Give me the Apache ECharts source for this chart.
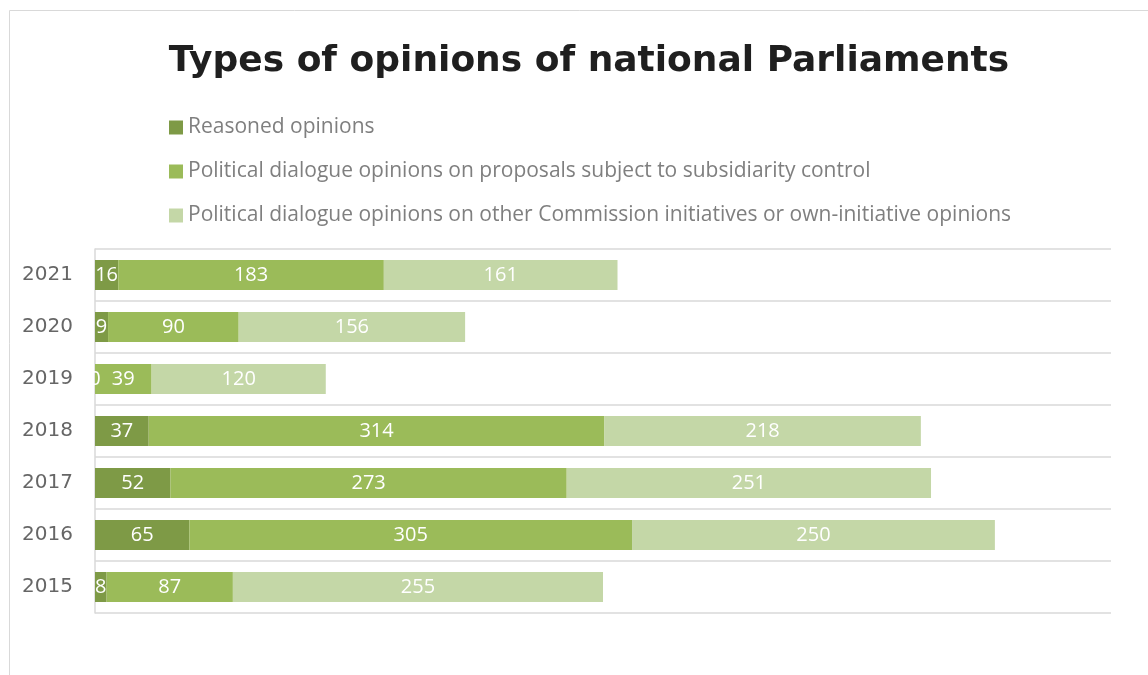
<!DOCTYPE html>
<html><head><meta charset="utf-8">
<script src="https://cdn.jsdelivr.net/npm/echarts@6/dist/echarts.min.js"></script>
<style>html,body{margin:0;padding:0;background:#fff}#c{width:1148px;height:675px}</style>
</head><body><div id="c"></div>
<script>
const years = ['2015','2016','2017','2018','2019','2020','2021'];
const seriesNames = [
  'Reasoned opinions',
  'Political dialogue opinions on proposals subject to subsidiarity control',
  'Political dialogue opinions on other Commission initiatives or own-initiative opinions'
];
const reasoned = [8, 65, 52, 37, 0, 9, 16];
const pdSubsidiarity = [87, 305, 273, 314, 39, 90, 183];
const pdOther = [255, 250, 251, 218, 120, 156, 161];
const colors = ['#7E9A46', '#9BBB59', '#C4D7A7'];

const chart = echarts.init(document.getElementById('c'));
const font = '"Open Sans", sans-serif';
function mk(i, data){
  return {
    name: seriesNames[i], type:'bar', stack:'t', data:data,
    barWidth: 30,
    itemStyle:{color:colors[i]},
    label:{show:true, position:'inside', color:'#fff', fontSize:20, fontFamily:font},
    emphasis:{disabled:true}
  };
}
chart.setOption({
  animation:false,
  title:{text:'Types of opinions of national Parliaments', left:584, top:39, textAlign:'center',
    textStyle:{fontFamily:'"DejaVu Sans", sans-serif', fontWeight:'bold', fontSize:36, color:'#1f1f1f'}},
  legend:{orient:'vertical', left:164, top:112, itemWidth:14, itemHeight:14, itemGap:23,
    icon:'rect', textStyle:{fontFamily:font, fontSize:21, color:'#7f7f7f'}, data:seriesNames},
  graphic:[{type:'rect', shape:{x:9.5, y:10.5, width:1200, height:700}, style:{fill:'none', stroke:'#d9d9d9', lineWidth:1}, silent:true}],
  grid:{left:95, right:37, top:249, bottom:62},
  xAxis:{type:'value', min:0, max:700, show:false},
  yAxis:{type:'category', data:years,
    axisLine:{lineStyle:{color:'#d9d9d9', width:1.5}}, axisTick:{show:false},
    splitLine:{show:true, lineStyle:{color:'#d9d9d9', width:1.5}},
    axisLabel:{fontFamily:'"DejaVu Sans", sans-serif', fontSize:20, color:'#666666', margin:22}},
  series:[mk(0,reasoned), mk(1,pdSubsidiarity), mk(2,pdOther)]
});
</script></body></html>
